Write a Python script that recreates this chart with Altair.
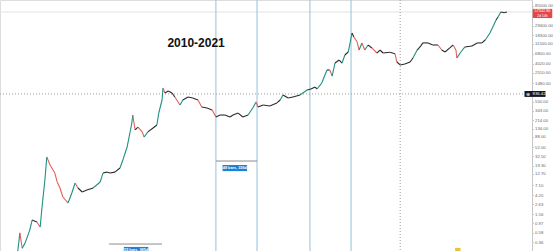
import altair as alt
import pandas as pd
import numpy as np

# ---- price path (decimal year, price in USD) ----
years = [2010.79, 2010.85, 2010.89, 2010.94, 2011.00, 2011.10, 2011.15, 2011.25, 2011.32, 2011.36,
         2011.42, 2011.46, 2011.53, 2011.63, 2011.68, 2011.74, 2011.80, 2011.91, 2011.99, 2012.06,
         2012.12, 2012.21, 2012.31, 2012.44, 2012.59, 2012.65, 2012.73, 2012.80, 2012.90, 2013.01,
         2013.07, 2013.16, 2013.22, 2013.26, 2013.28, 2013.33, 2013.39, 2013.48, 2013.52, 2013.60,
         2013.71, 2013.79, 2013.83, 2013.90, 2013.92, 2013.96, 2014.03, 2014.11, 2014.17, 2014.28,
         2014.34, 2014.45, 2014.55, 2014.66, 2014.74, 2014.85, 2014.96, 2015.04, 2015.13, 2015.23,
         2015.34, 2015.40, 2015.51, 2015.61, 2015.72, 2015.82, 2015.89, 2015.93, 2016.04, 2016.18,
         2016.33, 2016.40, 2016.46, 2016.57, 2016.67, 2016.82, 2016.97, 2017.05, 2017.14, 2017.18,
         2017.28, 2017.39, 2017.45, 2017.50, 2017.56, 2017.65, 2017.71, 2017.77, 2017.84, 2017.88,
         2017.92, 2017.96, 2018.03, 2018.07, 2018.13, 2018.19, 2018.26, 2018.34, 2018.45, 2018.51,
         2018.58, 2018.72, 2018.83, 2018.87, 2018.94, 2019.04, 2019.15, 2019.21, 2019.30, 2019.36,
         2019.42, 2019.53, 2019.63, 2019.74, 2019.82, 2019.89, 2019.99, 2020.06, 2020.12, 2020.14,
         2020.21, 2020.31, 2020.46, 2020.57, 2020.67, 2020.74, 2020.84, 2020.90, 2020.97, 2021.01,
         2021.07, 2021.14, 2021.20]
prices = [0.126, 0.24, 0.58, 0.26, 0.34, 0.67, 1.14, 1.03, 0.79, 2.26,
          9.25, 30.9, 20.3, 13.3, 8.35, 6.09, 3.80, 2.78, 4.69, 7.9,
          6.09, 4.94, 5.48, 6.09, 8.35, 13.3, 14.0, 13.3, 14.0, 17.3,
          26.3, 52, 109, 183, 278, 127, 148, 115, 88, 115,
          141, 165, 308, 610, 1140, 880, 975, 880, 715, 470,
          610, 715, 680, 610, 424, 400, 362, 250, 278, 278,
          250, 278, 308, 250, 278, 400, 550, 424, 470, 446,
          523, 610, 795, 680, 715, 795, 1030, 1085, 1200, 1085,
          1480, 2930, 2930, 2140, 4230, 4950, 4230, 6440, 7520, 12100,
          20350, 16500, 12700, 8350, 12100, 8350, 10850, 9300, 7140, 8350,
          7140, 7400, 6900, 4450, 3820, 4020, 4450, 5500, 8350, 9800,
          12100, 12100, 10850, 10850, 8350, 7520, 9300, 10850, 8350, 5500,
          7140, 9800, 10300, 12100, 12100, 14100, 20350, 28000, 40200, 47000,
          61200, 59000, 61200]

# ---- axis tick labels (right price scale) ----
tick_values = [0.36, 0.58, 0.97, 1.56, 2.63, 4.20, 7.10, 12.70, 19.30, 32.50, 52.00, 88.00,
               134.00, 214.00, 343.00, 550.00, 1480.00, 2510.00, 4020.00, 6800.00,
               11500.00, 18300.00, 29400.00, 85000.00]

# ---- annotations ----
marker_years = [2015.04, 2015.91, 2017.03, 2017.90]
crosshair_year = [2018.94]
crosshair_price = [836.42]
last_price = [61200]
last_price_text = ["57342.80"]
countdown_text = ["2d 14h"]
title_text = ["2010-2021"]
title_pos = [(2014.62, 12100)]
measure_start = [2015.04, 2012.78]
measure_end = [2015.91, 2013.90]
measure_price = [25.0, 0.324]
measure_label_year = [2015.44, 2013.35]
measure_label_price = [17.3, 0.237]
measure_labels = ["48 bars, 336d", "55 bars, 385d"]
event_year = [2020.16]
event_price = [0.24]

W, H = 532, 251
xs = alt.Scale(domain=[2010.47, 2021.73], nice=False, zero=False)
ys = alt.Scale(type="log", domain=[0.225, 114500], nice=False)
y_axis = alt.Axis(
    orient="right", values=tick_values, format=".2f", labelFontSize=4.3,
    labelColor="#666", labelFont="Liberation Sans", domainColor="#c8c8c8",
    tickColor="#c8c8c8", tickSize=1.5, labelPadding=1, grid=False, title=None,
    labelOverlap=False, labelFlush=False)


def Y(field):
    return alt.Y(field, scale=ys, axis=y_axis)


def X(field):
    return alt.X(field, scale=xs, axis=None)


df = pd.DataFrame({"year": years, "price": prices})
seg = df.copy()
seg["year2"] = df["year"].shift(-1)
seg["price2"] = df["price"].shift(-1)
seg = seg.dropna()
r = np.log(seg["price2"] / seg["price"])
seg["dir"] = np.where(r > 0.25, "up", np.where(r < -0.25, "down", "flat"))

price_layer = alt.Chart(seg).mark_rule(strokeWidth=1.1, clip=True).encode(
    x=X("year:Q"), x2="year2:Q", y=Y("price:Q"), y2="price2:Q",
    color=alt.Color("dir:N", scale=alt.Scale(domain=["up", "down", "flat"],
                                            range=["#1f9080", "#e0605a", "#2b2b2b"]), legend=None),
)

last_line = alt.Chart(pd.DataFrame({"p": last_price})).mark_rule(color="#e2e2e2", strokeWidth=1).encode(
    y=Y("p:Q"))

vlines = alt.Chart(pd.DataFrame({"year": marker_years})).mark_rule(color="#93c1dd", strokeWidth=1).encode(
    x=X("year:Q"))

cross_v = alt.Chart(pd.DataFrame({"year": crosshair_year})).mark_rule(
    color="#9a9a9a", strokeWidth=1, strokeDash=[1, 2]).encode(x=X("year:Q"))
cross_h = alt.Chart(pd.DataFrame({"p": crosshair_price})).mark_rule(
    color="#9a9a9a", strokeWidth=1, strokeDash=[1, 2]).encode(y=Y("p:Q"))

mdf = pd.DataFrame({"x1": measure_start, "x2": measure_end, "p": measure_price,
                    "lx": measure_label_year, "lp": measure_label_price, "t": measure_labels})
measure_lines = alt.Chart(mdf).mark_rule(color="#8c8c8c", strokeWidth=1).encode(
    x=X("x1:Q"), x2="x2:Q", y=Y("p:Q"))
box_path = "M-1,-0.25H1V0.25H-1Z"
measure_boxes = alt.Chart(mdf).mark_point(shape=box_path, filled=True, opacity=1,
                                           color="#1e7fd6", size=600).encode(
    x=X("lx:Q"), y=Y("lp:Q"))
measure_text = alt.Chart(mdf).mark_text(color="white", fontSize=3.8, fontWeight="bold",
                                        font="Liberation Sans").encode(
    x=X("lx:Q"), y=Y("lp:Q"), text="t:N")

tdf = pd.DataFrame({"x": [title_pos[0][0]], "p": [title_pos[0][1]], "t": title_text})
title = alt.Chart(tdf).mark_text(fontSize=12, fontWeight="bold", font="Liberation Sans",
                                 color="#111").encode(
    x=X("x:Q"), y=Y("p:Q"), text="t:N")

ev = alt.Chart(pd.DataFrame({"x": event_year, "p": event_price})).mark_point(
    shape="M-1,-0.7H1V0.7H-1Z", filled=True, opacity=1, color="#f2bf3c", size=30).encode(
    x=X("x:Q"), y=Y("p:Q"))

# price label on the scale (red) and crosshair label (black)
red_df = pd.DataFrame({"p": last_price, "t": last_price_text, "c": countdown_text})
red_box = alt.Chart(red_df).mark_point(shape="M-1,-0.47H1V0.47H-1Z", filled=True, opacity=1,
                                       color="#e3474a", size=380, yOffset=1.5).encode(
    x=alt.value(W + 10.5), y=Y("p:Q"))
red_text = alt.Chart(red_df).mark_text(color="white", fontSize=3.8, font="Liberation Sans",
                                       yOffset=-0.5).encode(
    x=alt.value(W + 10.5), y=Y("p:Q"), text="t:N")
red_text2 = alt.Chart(red_df).mark_text(color="white", fontSize=3.4, font="Liberation Sans",
                                        yOffset=3.6).encode(
    x=alt.value(W + 10.5), y=Y("p:Q"), text="c:N")

blk_df = pd.DataFrame({"p": crosshair_price, "t": ["836.42"]})
blk_box = alt.Chart(blk_df).mark_point(shape="M-1,-0.28H1V0.28H-1Z", filled=True, opacity=1,
                                       color="#131722", size=441).encode(
    x=alt.value(W + 3), y=Y("p:Q"))
blk_plus = alt.Chart(blk_df).mark_text(color="white", fontSize=5, font="DejaVu Sans").encode(
    x=alt.value(W - 4), y=Y("p:Q"), text=alt.value("⊕"))
blk_text = alt.Chart(blk_df).mark_text(color="white", fontSize=4.3, font="Liberation Sans",
                                       align="left").encode(
    x=alt.value(W + 0.5), y=Y("p:Q"), text="t:N")

chart = alt.layer(
    last_line, vlines, cross_v, cross_h, measure_lines, price_layer,
    measure_boxes, measure_text, title, ev, red_box, red_text, red_text2,
    blk_box, blk_plus, blk_text
).properties(
    width=W, height=H, padding={"left": 0, "top": 0, "right": 22, "bottom": 0},
    autosize=alt.AutoSizeParams(type="none")
).configure_view(stroke=None).configure(background="white")

chart.save("out.html", embed_options={"renderer": "svg", "actions": False})
